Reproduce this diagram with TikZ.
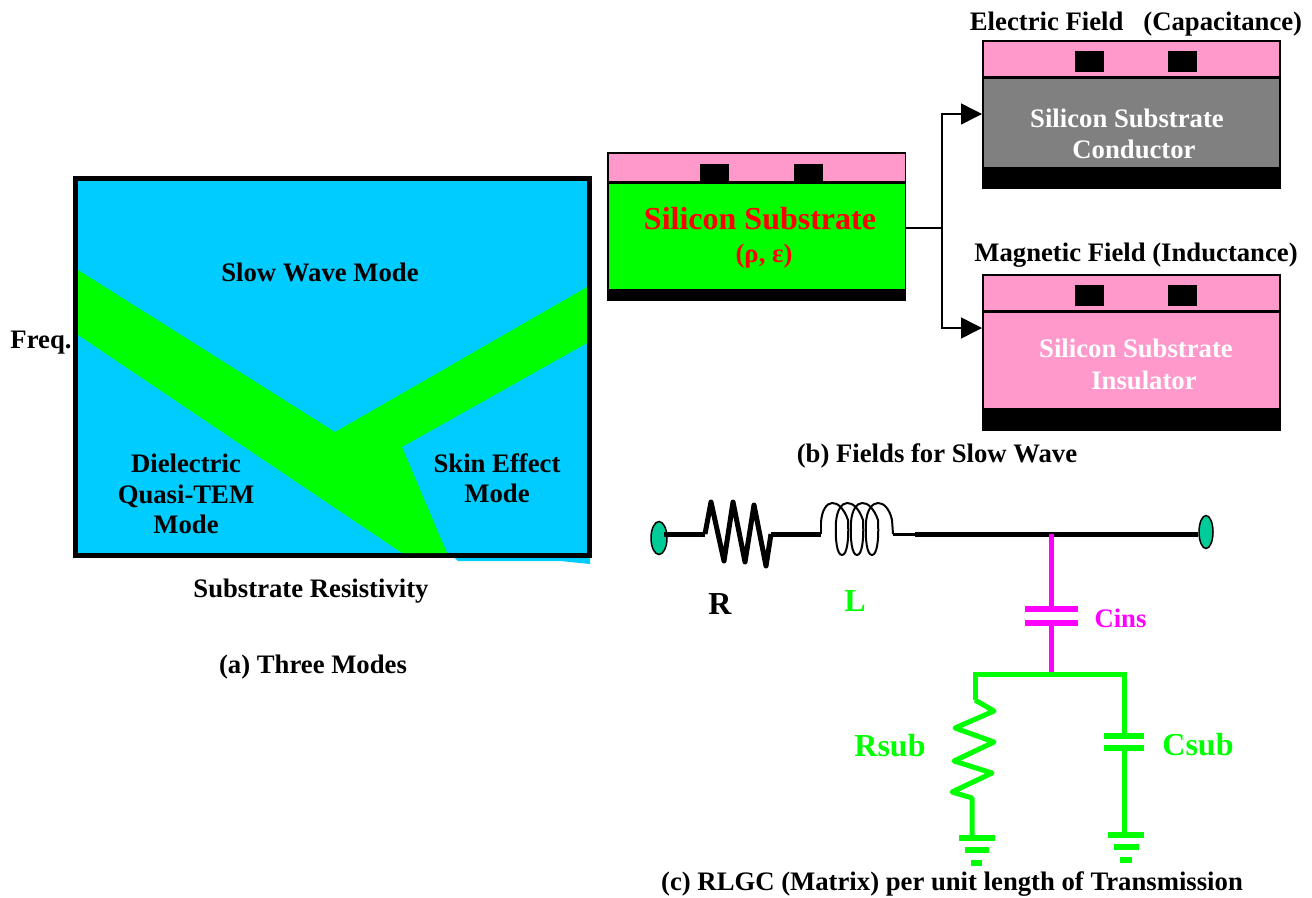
\documentclass[tikz,border=0pt]{standalone}
\usepackage{fontspec}
\setmainfont{Liberation Serif}
\usetikzlibrary{arrows.meta}
\usetikzlibrary{shapes.geometric}
\definecolor{SKYBLUE}{HTML}{00CCFF}
\definecolor{PINKISH}{HTML}{FF99CC}
\definecolor{TEAL}{HTML}{00CC99}
\definecolor{LIME}{HTML}{00FF00}
\definecolor{MAGENTA}{HTML}{FF00FF}
\tikzset{>={Triangle[width=21pt,length=21pt]}}
\tikzset{
  txt/.style={inner sep=0pt, font=\fontsize{26.7}{30.5}\selectfont\bfseries, align=center},
  bigtxt/.style={txt, font=\fontsize{32}{36}\selectfont\bfseries},
  layer/.style={draw=black, line width=1.5pt, anchor=north west, inner sep=0pt},
  pad/.style={fill=black, inner sep=0pt, minimum width=29pt, anchor=north west},
  port/.style={draw=black, line width=1.5pt, fill=TEAL, ellipse, minimum height=33pt, inner sep=0pt},
  wire/.style={line width=5pt},
  plate/.style={line width=6pt},
  coilline/.style={line width=2pt},
}

\begin{document}
\begin{tikzpicture}[x=1pt,y=-1pt]
\useasboundingbox (0,0) rectangle (1312,897);

%% three modes
\fill[SKYBLUE](455,558)--(590,558)--(590,564)--(560,561)--(458,561)--cycle;
\node[draw=black, line width=5pt, fill=SKYBLUE, minimum width=514pt, minimum height=377pt, inner sep=0pt, anchor=north west](modes) at (73,176){};
\fill[LIME](78,270)--(335,432)--(587,287)--(587,343)--(402,447)--(447,553)--(402,553)--(78,335)--cycle;

\node[txt](slow) at (320,272){Slow Wave Mode};
\node[txt](freq) at (41,343){Freq.};
\node[txt](dielectric) at (186,494){Dielectric\\Quasi-TEM\\Mode};
\node[txt](skin) at (497,478){Skin Effect\\Mode};
\node[txt](resistivity) at (311,591){Substrate Resistivity};
\node[txt](captiona) at (313,667){(a) Three Modes};

%% substrate
\node[layer, fill=PINKISH, minimum width=297.5pt, minimum height=28.5pt](subtop) at (607,152){};
\node[layer, fill=LIME, minimum width=297.5pt, minimum height=106.5pt](subbody) at (607,182){};
\node[layer, fill=black, minimum width=297.5pt, minimum height=9.5pt](subbase) at (607,290){};
\node[pad, minimum height=18pt](subpada) at (700,164){};
\node[pad, minimum height=18pt](subpadb) at (794,164){};
\node[bigtxt, text=red](subname) at (760,219){Silicon Substrate};
\node[txt, text=red](subparam) at (764,256){(ρ, ε)};

%% conductor
\node[txt](efield) at (1136,24){Electric Field~~ (Capacitance)};
\node[layer, fill=PINKISH, minimum width=297pt, minimum height=35.5pt](condtop) at (982,40){};
\node[layer, fill=gray, minimum width=297pt, minimum height=89.5pt](condbody) at (982,77){};
\node[layer, fill=black, minimum width=297pt, minimum height=19pt](condbase) at (982,168){};
\node[pad, minimum height=21pt](condpada) at (1075,51){};
\node[pad, minimum height=21pt](condpadb) at (1168,51){};
\node[txt, text=white](condname) at (1127,118){Silicon Substrate};
\node[txt, text=white](condkind) at (1134,149){Conductor};

%% insulator
\node[txt](mfield) at (1136,255){Magnetic Field (Inductance)};
\node[layer, fill=PINKISH, minimum width=297pt, minimum height=35.5pt](instop) at (982,274){};
\node[layer, fill=PINKISH, minimum width=297pt, minimum height=96.5pt](insbody) at (982,311){};
\node[layer, fill=black, minimum width=297pt, minimum height=20pt](insbase) at (982,409){};
\node[pad, minimum height=21pt](inspada) at (1075,285){};
\node[pad, minimum height=21pt](inspadb) at (1168,285){};
\node[txt, text=white](insname) at (1136,348){Silicon Substrate};
\node[txt, text=white](inskind) at (1144,380){Insulator};
\node[txt](captionb) at (937,456){(b) Fields for Slow Wave};

\coordinate (split) at (942,228);
\coordinate (condin) at (982,114);
\coordinate (insin) at (982,328);
\draw[line width=1.5pt] (subbody.east |- split)--(split);
\draw[->, line width=1.5pt] (split)|-(condin);
\draw[->, line width=1.5pt] (split)|-(insin);

%% series branch
\coordinate (rstart) at (705,534);
\coordinate (rend) at (771,534);
\coordinate (lstart) at (821,534);
\coordinate (lend) at (893,534);
\coordinate (tap) at (1051,534);
\node[port, minimum width=16pt](portl) at (659,538){};
\node[port, minimum width=14pt](portr) at (1206,532){};
\draw[wire] ([xshift=5pt]portl.center |- rstart)--(rstart);
\draw[wire, line join=round] (rstart)--(711,502)--(724,561)--(733,502)--(745,562)--(754,505)--(766,566)--(rend);
\draw[wire] (rend)--(lstart);
\draw[coilline] (lstart)--(821,522);
\foreach \cx in {842,857,872}
  \draw[coilline] (\cx-21,522) .. controls (\cx-19,497) and (\cx-2,497) .. (\cx+6,520) .. controls (\cx+7,540) and (\cx+5,555) .. (\cx,555) .. controls (\cx-5,555) and (\cx-7,540) .. (\cx-6,522);
\draw[coilline] (866,522) .. controls (868,497) and (887,497) .. (892,520)--(lend);
\draw[line width=3pt] (lend)--(915,534);
\draw[wire] (915,534)--(portr.west |- tap);
\node[bigtxt](rlabel) at (720,604){R};
\node[bigtxt, text=LIME](llabel) at (855,601){L};

%% shunt capacitor
\coordinate (cinsa) at (1051,609);
\coordinate (cinsb) at (1051,623);
\coordinate (split2) at (1051,674);
\draw[wire, MAGENTA] (tap)--(cinsa);
\draw[plate, MAGENTA] (1025,609)--(1078,609);
\draw[plate, MAGENTA] (1025,623)--(1078,623);
\draw[wire, MAGENTA] (cinsb)--(split2);
\node[txt, text=MAGENTA](cinslabel) at (1120.5,618){Cins};

%% substrate branch
\coordinate (rsubin) at (975,700);
\coordinate (rsubout) at (972,798);
\coordinate (gnda) at (972,838);
\coordinate (csuba) at (1124,736);
\coordinate (csubb) at (1124,748);
\coordinate (gndb) at (1124,835);
\draw[wire, LIME, line join=miter] (rsubin)|-(split2)-|(csuba);
\draw[wire, LIME, line join=round] (rsubin)--(994,711)--(955,728)--(994,742)--(954,761)--(992,773)--(952,792)--(rsubout)--(gnda);
\draw[wire, LIME] (csubb)--(gndb);
\draw[plate, LIME] (1104,736)--(1144,736);
\draw[plate, LIME] (1104,748)--(1144,748);
\draw[plate, LIME] (959,838)--(995,838);
\draw[plate, LIME] (965,850)--(989,850);
\draw[plate, LIME] (971,863)--(982,863);
\draw[plate, LIME] (1108,835)--(1144,835);
\draw[plate, LIME] (1114,847)--(1139,847);
\draw[plate, LIME] (1120,860)--(1132,860);
\node[bigtxt, text=LIME](rsublabel) at (890,746){Rsub};
\node[bigtxt, text=LIME](csublabel) at (1198,745){Csub};
\node[txt](captionc) at (952,884){(c) RLGC (Matrix) per unit length of Transmission};
\end{tikzpicture}
\end{document}
